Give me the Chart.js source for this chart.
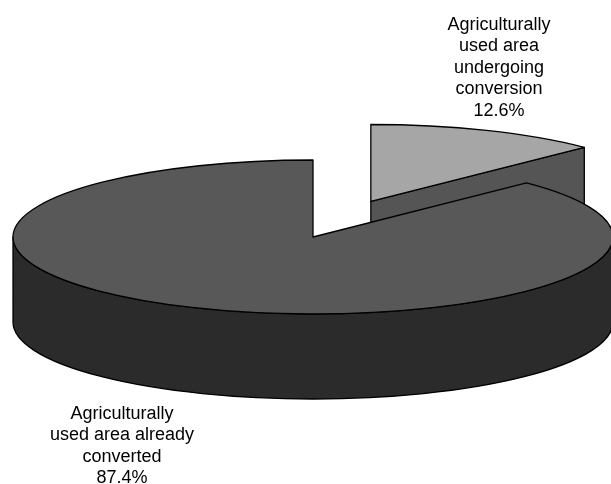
<!DOCTYPE html>
<html>
<head>
<meta charset="utf-8">
<title>Agricultural area by conversion status</title>
<script src="https://cdn.jsdelivr.net/npm/chart.js@4.4.1/dist/chart.umd.min.js"></script>
<style>
  html, body { margin: 0; padding: 0; background: #ffffff; }
  canvas { display: block; }
</style>
</head>
<body>
<canvas id="pie" width="611" height="484"></canvas>
<script>
// Share of agriculturally used area, by conversion status (percent)
const categories = [
  'Agriculturally used area undergoing conversion',
  'Agriculturally used area already converted'
];
const shares = [12.6, 87.4];
// Label text for each slice, one entry per line (percentage is appended)
const labelLines = [
  ['Agriculturally', 'used area', 'undergoing', 'conversion'],
  ['Agriculturally', 'used area already', 'converted']
];

const topColors = ['#a6a6a6', '#585858'];
const sideColors = ['#555555', '#2b2b2b'];

// Draws the pie as a tilted disc: side walls first, then each slice's top
// face through the arc element itself, squeezed into an ellipse.
const tiltedPie = {
  id: 'tiltedPie',
  beforeDatasetsDraw(chart, args, o) {
    const ctx = chart.ctx;
    const arcs = chart.getDatasetMeta(0).data;
    const midOf = a => (a.startAngle + a.endAngle) / 2;
    const order = arcs.map((a, i) => i)
      .sort((i, j) => Math.sin(midOf(arcs[i])) - Math.sin(midOf(arcs[j])));

    for (const i of order) {
      const arc = arcs[i];
      const { x, y, startAngle: a0, endAngle: a1, outerRadius: r } =
        arc.getProps(['x', 'y', 'startAngle', 'endAngle', 'outerRadius'], true);
      const sx = o.rx / r, sy = o.ry / r;
      const m = (a0 + a1) / 2;
      const e = (o.explode[i] || 0) * r;
      const cx = o.cx + sx * e * Math.cos(m);
      const cy = o.cy + sy * e * Math.sin(m);
      const pt = (a, z) => [cx + o.rx * Math.cos(a), cy + o.ry * Math.sin(a) + z];

      ctx.save();
      ctx.lineWidth = o.lineWidth;
      ctx.strokeStyle = '#000000';
      ctx.lineJoin = 'round';
      ctx.fillStyle = o.sideColors[i];

      // cut faces that turn towards the viewer
      const faces = [];
      if (Math.cos(a0) < -1e-6) faces.push(a0);
      if (Math.cos(a1) > 1e-6) faces.push(a1);
      for (const a of faces) {
        const p = pt(a, 0), q = pt(a, o.depth);
        ctx.beginPath();
        ctx.moveTo(cx, cy);
        ctx.lineTo(p[0], p[1]);
        ctx.lineTo(q[0], q[1]);
        ctx.lineTo(cx, cy + o.depth);
        ctx.closePath();
        ctx.fill();
        ctx.stroke();
      }

      // front part of the rim
      for (let k = -1; k <= 1; k++) {
        const s = Math.max(a0, 2 * Math.PI * k);
        const t = Math.min(a1, 2 * Math.PI * k + Math.PI);
        if (t - s > 1e-6) {
          ctx.beginPath();
          ctx.ellipse(cx, cy, o.rx, o.ry, 0, s, t);
          ctx.ellipse(cx, cy + o.depth, o.rx, o.ry, 0, t, s, true);
          ctx.closePath();
          ctx.fill();
          ctx.stroke();
        }
      }

      // top face, drawn by the arc element
      ctx.save();
      ctx.translate(cx, cy);
      ctx.scale(sx, sy);
      ctx.translate(-x, -y);
      arc.draw(ctx, chart.chartArea);
      ctx.restore();

      // outline of the top face
      ctx.beginPath();
      ctx.moveTo(cx, cy);
      ctx.ellipse(cx, cy, o.rx, o.ry, 0, a0, a1);
      ctx.closePath();
      ctx.stroke();
      ctx.restore();
    }
    return false;
  },
  afterDraw(chart, args, o) {
    const ctx = chart.ctx;
    ctx.save();
    ctx.fillStyle = '#000000';
    ctx.font = o.font;
    ctx.textAlign = 'center';
    ctx.textBaseline = 'alphabetic';
    labelLines.forEach((lines, i) => {
      const all = lines.concat([shares[i].toFixed(1) + '%']);
      const [lx, ly] = o.labelAt[i];
      all.forEach((t, n) => ctx.fillText(t, lx, ly + n * o.lineHeight));
    });
    ctx.restore();
  }
};

new Chart(document.getElementById('pie'), {
  type: 'pie',
  data: {
    labels: categories,
    datasets: [{
      data: shares,
      backgroundColor: topColors,
      borderWidth: 0
    }]
  },
  plugins: [tiltedPie],
  options: {
    responsive: false,
    animation: false,
    devicePixelRatio: 1,
    events: [],
    plugins: {
      legend: { display: false },
      tooltip: { enabled: false },
      tiltedPie: {
        cx: 313, cy: 237, rx: 300, ry: 77, depth: 85,
        explode: [0.5, 0],
        sideColors: sideColors,
        lineWidth: 1.3,
        font: '18px "Liberation Sans", Arial, sans-serif',
        lineHeight: 21.6,
        labelAt: [[499, 29.5], [122, 418.5]]
      }
    }
  }
});
</script>
</body>
</html>
